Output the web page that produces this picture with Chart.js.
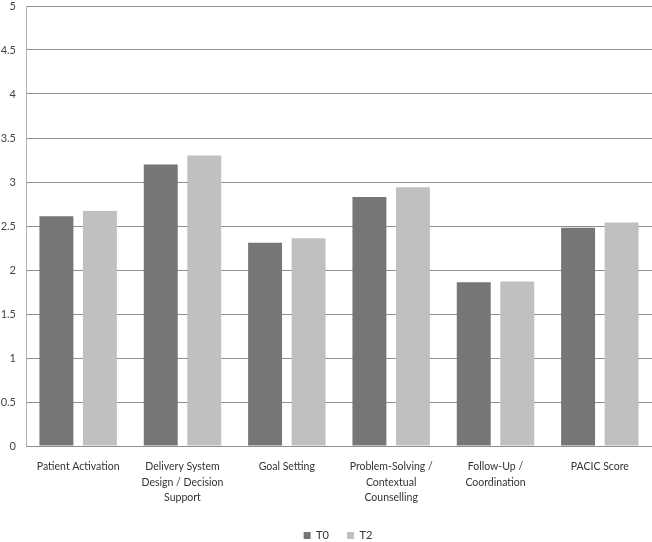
<!DOCTYPE html>
<html lang="en">
<head>
  <meta charset="UTF-8">
  <title>PACIC T0 / T2</title>
  <script src="https://cdn.jsdelivr.net/npm/chart.js"></script>
  <style>
    html, body { margin: 0; padding: 0; background: #fff; }
    #wrap { width: 652px; height: 542px; }
  </style>
</head>
<body>
  <div id="wrap"><canvas id="chart"></canvas></div>

  <script>
    const categories = [
      "Patient Activation",
      ["Delivery System", "Design / Decision", "Support"],
      "Goal Setting",
      ["Problem-Solving /", "Contextual", "Counselling"],
      ["Follow-Up /", "Coordination"],
      "PACIC Score"
    ];
    const t0Values = [2.61, 3.20, 2.31, 2.83, 1.86, 2.48];
    const t2Values = [2.67, 3.30, 2.36, 2.94, 1.87, 2.54];

    const gridGrey = "#8f8f8f";
    const font = { family: "Lato", size: 10.5, lineHeight: 1.48 };

    // nudge the legend a little to the right, like the original
    const legendShift = {
      id: "legendShift",
      afterLayout(chart) {
        chart.legend.left += 12;
        chart.legend.right += 12;
      }
    };

    new Chart(document.getElementById("chart"), {
      type: "bar",
      data: {
        labels: categories,
        datasets: [
          { label: "T0", data: t0Values, backgroundColor: "#767676" },
          { label: "T2", data: t2Values, backgroundColor: "#c0c0c0" }
        ]
      },
      options: {
        responsive: true,
        maintainAspectRatio: false,
        animation: false,
        categoryPercentage: 0.834,
        barPercentage: 0.78,
        layout: { padding: { top: 0, right: 0, bottom: -9, left: 0 } },
        plugins: {
          tooltip: { enabled: false },
          legend: {
            position: "bottom",
            labels: { boxWidth: 7, boxHeight: 7, color: "#333", font: { family: "Lato", size: 11 }, padding: 18 }
          }
        },
        scales: {
          x: {
            grid: { display: false },
            border: { color: gridGrey },
            ticks: { color: "#333", font: font, maxRotation: 0, autoSkip: false, padding: 5 },
            afterFit: (scale) => { scale.height = 66; }
          },
          y: {
            min: 0,
            max: 5,
            ticks: { stepSize: 0.5, color: "#444", font: { family: "Lato", size: 11 }, padding: 10,
                     callback: (v) => String(v) },
            grid: { color: gridGrey, drawTicks: false },
            border: { color: "#b0b0b0" },
            afterFit: (scale) => { scale.width = 26; scale.paddingTop = 6; }
          }
        }
      },
      plugins: [legendShift]
    });
  </script>
</body>
</html>
